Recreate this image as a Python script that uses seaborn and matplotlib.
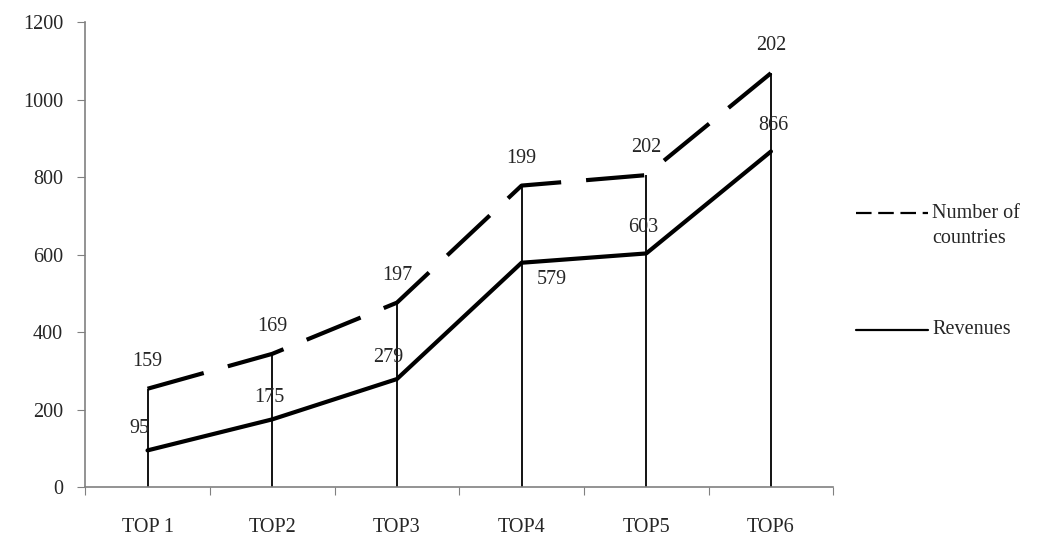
import pandas as pd
import seaborn as sns
import matplotlib.pyplot as plt
from matplotlib.lines import Line2D

# values
categories = ['TOP 1', 'TOP2', 'TOP3', 'TOP4', 'TOP5', 'TOP6']
revenues = [95, 175, 279, 579, 603, 866]
countries = [159, 169, 197, 199, 202, 202]

# stacked: countries sit on top of revenues
stacked_top = [r + c for r, c in zip(revenues, countries)]

df = pd.DataFrame({
    'cat': categories * 2,
    'value': stacked_top + revenues,
    'series': ['Number of countries'] * 6 + ['Revenues'] * 6,
})

sns.set_style('white')
plt.rcParams['font.family'] = ['Liberation Serif', 'DejaVu Serif']
FS = 14.5

fig = plt.figure(figsize=(10.39, 5.36), dpi=100)
ax = fig.add_axes([0.082, 0.091, 0.72, 0.868])

sns.lineplot(data=df, x='cat', y='value', hue='series', style='series',
             palette=['black', 'black'],
             dashes={'Number of countries': (14, 6), 'Revenues': ''},
             linewidth=3.0, sort=False, ax=ax, legend=False)

# drop lines from stacked top to axis
ax.vlines(range(len(categories)), 0, stacked_top, color='black', linewidth=1.3, zorder=1)

# data labels
for i, (v, t) in enumerate(zip(countries, stacked_top)):
    ax.annotate(str(v), (i, t), xytext=(0, 13), textcoords='offset points',
                ha='center', va='bottom', fontsize=FS)
rev_off = [(-6, 9), (-2, 9), (-6, 9), (22, -5), (-2, 12), (2, 12)]
rev_va = ['bottom', 'bottom', 'bottom', 'top', 'bottom', 'bottom']
for i, v in enumerate(revenues):
    ax.annotate(str(v), (i, v), xytext=rev_off[i], textcoords='offset points',
                ha='center', va=rev_va[i], fontsize=FS)

ax.set_xlim(-0.5, len(categories) - 0.5)
ax.set_ylim(0, 1200)
ax.set_yticks(range(0, 1201, 200))
ax.set_xticks([i - 0.5 for i in range(len(categories) + 1)], minor=False)
ax.set_xticklabels([])
ax.set_xticks(range(len(categories)), minor=True)
ax.set_xticklabels(categories, minor=True)
ax.tick_params(axis='x', which='major', length=6, color='#808080', direction='out', bottom=True)
ax.tick_params(axis='x', which='minor', length=0, pad=22, labelsize=FS)
ax.tick_params(axis='y', length=6, color='#808080', direction='out', left=True, labelsize=FS, pad=10)
ax.set_xlabel('')
ax.set_ylabel('')

sns.despine(ax=ax)
for s in ['left', 'bottom']:
    ax.spines[s].set_color('#808080')
    ax.spines[s].set_linewidth(1.2)

# legend drawn by hand (handle aligned with the first text line, like the original)
def fx(px):
    return px / 1039

def fy(py):
    return 1 - py / 536

fig.add_artist(Line2D([fx(856), fx(928)], [fy(213), fy(213)], color='black',
                      linewidth=1.6, dashes=(7, 3)))
fig.text(fx(932), fy(213), 'Number of', fontsize=FS, va='center', ha='left')
fig.text(fx(932), fy(239), 'countries', fontsize=FS, va='center', ha='left')
fig.add_artist(Line2D([fx(856), fx(928)], [fy(330), fy(330)], color='black', linewidth=1.6))
fig.text(fx(932), fy(330), 'Revenues', fontsize=FS, va='center', ha='left')

fig.savefig('out.png', dpi=100)
